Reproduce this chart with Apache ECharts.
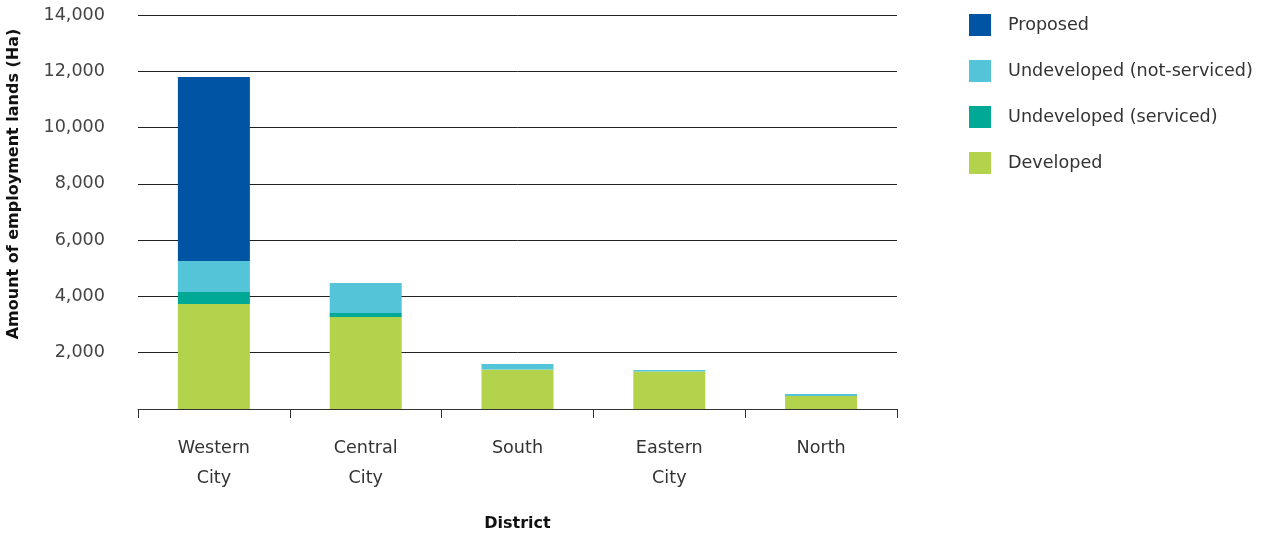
<!DOCTYPE html>
<html>
<head>
<meta charset="utf-8">
<script src="https://cdn.jsdelivr.net/npm/echarts@6/dist/echarts.min.js"></script>
<style>
  html, body { margin: 0; padding: 0; background: #fff; }
  #chart { width: 1263px; height: 536px; }
</style>
</head>
<body>
<div id="chart"></div>
<script>
// Employment lands by district (hectares)
const districts = ['Western\nCity', 'Central\nCity', 'South', 'Eastern\nCity', 'North'];
const developed = [3730, 3270, 1400, 1330, 460];
const undevelopedServiced = [430, 140, 0, 0, 0];
const undevelopedNotServiced = [1100, 1070, 200, 60, 70];
const proposed = [6540, 0, 0, 0, 0];
const yTicks = [0, 2000, 4000, 6000, 8000, 10000, 12000, 14000];

const FONT = 'DejaVu Sans';
const colors = {
  proposed: '#0054a4',
  notServiced: '#54c5d9',
  serviced: '#00a995',
  developed: '#b2d34b'
};

const chart = echarts.init(document.getElementById('chart'));

function bar(name, data, color) {
  return {
    name: name,
    type: 'bar',
    stack: 'lands',
    data: data,
    barWidth: 72,
    itemStyle: { color: color },
    emphasis: { disabled: true }
  };
}

chart.setOption({
  animation: false,
  textStyle: { fontFamily: FONT },
  grid: {
    left: 138, right: 366, top: 15, bottom: 127,
    containLabel: false, outerBoundsMode: 'none'
  },
  // Y axis title, placed a little above the plot's vertical centre
  graphic: [{
    type: 'text',
    x: 14,
    y: 184,
    rotation: Math.PI / 2,
    style: {
      text: 'Amount of employment lands (Ha)',
      fontFamily: FONT,
      fontSize: 16,
      fontWeight: 'bold',
      fill: '#111',
      align: 'center',
      verticalAlign: 'middle'
    }
  }],
  legend: {
    orient: 'vertical',
    left: 964,
    top: 9,
    itemWidth: 22,
    itemHeight: 22,
    itemGap: 24,
    icon: 'rect',
    selectedMode: false,
    textStyle: { fontFamily: FONT, fontSize: 17.6, color: '#333', padding: [0, 0, 0, 12] },
    data: ['Proposed', 'Undeveloped (not-serviced)', 'Undeveloped (serviced)', 'Developed']
  },
  xAxis: {
    type: 'category',
    data: districts,
    name: 'District',
    nameLocation: 'middle',
    nameGap: 107,
    nameTextStyle: { fontFamily: FONT, fontSize: 16, fontWeight: 'bold', color: '#111' },
    axisLine: { lineStyle: { color: '#333', width: 1 } },
    axisTick: { show: true, alignWithLabel: false, length: 9, lineStyle: { color: '#333' } },
    axisLabel: {
      fontFamily: FONT, fontSize: 17.6, color: '#333',
      margin: 24, lineHeight: 30
    }
  },
  yAxis: {
    type: 'value',
    min: 0,
    max: 14000,
    interval: 2000,
    axisLine: { show: false },
    axisTick: { show: false },
    splitLine: { lineStyle: { color: '#222', width: 1 } },
    axisLabel: {
      fontFamily: FONT, fontSize: 17.6, color: '#444', margin: 33,
      formatter: function (v) {
        return yTicks.indexOf(v) > 0 ? v.toLocaleString('en-US') : '';
      }
    }
  },
  series: [
    bar('Developed', developed, colors.developed),
    bar('Undeveloped (serviced)', undevelopedServiced, colors.serviced),
    bar('Undeveloped (not-serviced)', undevelopedNotServiced, colors.notServiced),
    bar('Proposed', proposed, colors.proposed)
  ]
});
</script>
</body>
</html>
